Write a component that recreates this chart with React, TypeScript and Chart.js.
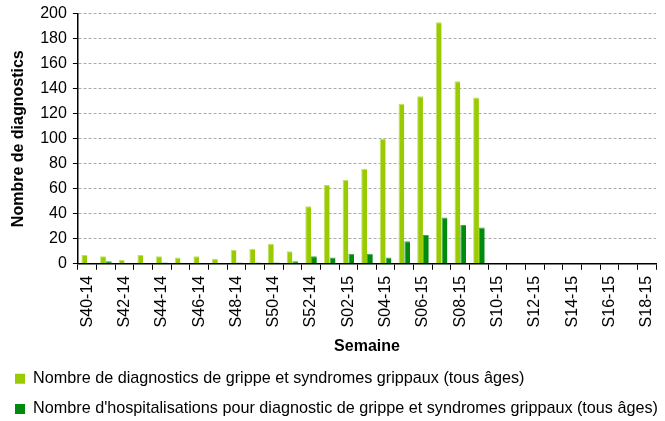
import React, { useEffect, useRef } from "react";
import { Chart, registerables } from "chart.js";

Chart.register(...registerables);

const weeks: string[] = [
  "S40-14", "S41-14", "S42-14", "S43-14", "S44-14", "S45-14", "S46-14", "S47-14",
  "S48-14", "S49-14", "S50-14", "S51-14", "S52-14",
  "S01-15", "S02-15", "S03-15", "S04-15", "S05-15", "S06-15", "S07-15", "S08-15",
  "S09-15", "S10-15", "S11-15", "S12-15", "S13-15", "S14-15", "S15-15", "S16-15",
  "S17-15", "S18-15",
];

const diagnostics: number[] = [
  7, 6, 3, 7, 6, 5, 6, 4, 11, 12, 16, 10, 46,
  63, 67, 76, 100, 128, 134, 193, 146, 133, 0, 0, 0, 0, 0, 0, 0, 0, 0,
];

const hospitalisations: number[] = [
  0, 2, 0, 0, 1, 0, 0, 0, 1, 1, 1, 2, 6,
  5, 8, 8, 5, 18, 23, 37, 31, 29, 0, 0, 0, 0, 0, 0, 0, 0, 0,
];

const seriesNames: string[] = [
  "Nombre de diagnostics de grippe et syndromes grippaux (tous âges)",
  "Nombre d'hospitalisations pour diagnostic de grippe et syndromes grippaux (tous âges)",
];

const FONT = "'Liberation Sans', Arial, sans-serif";

export default function App() {
  const ref = useRef<HTMLCanvasElement | null>(null);
  useEffect(() => {
    if (!ref.current) return;
    const chart = new Chart(ref.current, {
      type: "bar",
      data: {
        labels: weeks,
        datasets: [
          {
            label: seriesNames[0],
            data: diagnostics,
            backgroundColor: "#99CC00",
            borderColor: "#C2E066",
            borderWidth: { left: 1, top: 1, right: 0, bottom: 0 } as any,
          },
          {
            label: seriesNames[1],
            data: hospitalisations,
            backgroundColor: "#008A0E",
            borderColor: "#3FA84A",
            borderWidth: { left: 1, top: 1, right: 0, bottom: 0 } as any,
          },
        ],
      },
      options: {
        responsive: false,
        animation: false,
        layout: { padding: { left: 1, right: 0, top: 5, bottom: 0 } },
        datasets: { bar: { categoryPercentage: 0.62, barPercentage: 1.0 } },
        plugins: {
          tooltip: { enabled: false },
          legend: {
            position: "bottom",
            align: "start",
            labels: {
              boxWidth: 10,
              boxHeight: 10,
              padding: 14,
              color: "#000",
              font: { family: FONT, size: 16.2 },
              generateLabels: (c: any) =>
                Chart.defaults.plugins.legend.labels.generateLabels(c).map((l: any) => ({
                  ...l,
                  lineWidth: 0,
                  strokeStyle: l.fillStyle,
                })),
            },
          },
        },
        scales: {
          x: {
            offset: true,
            grid: {
              offset: true,
              drawOnChartArea: false,
              drawTicks: true,
              tickLength: 6,
              tickColor: "#000",
            },
            border: { display: true, color: "#000", width: 1.5 },
            ticks: {
              autoSkip: false,
              maxRotation: 90,
              minRotation: 90,
              color: "#000",
              font: { family: FONT, size: 16 },
              padding: 6,
              callback: (_v: any, i: number) => (i % 2 === 0 ? weeks[i] : ""),
            },
            title: {
              display: true,
              text: "Semaine",
              color: "#000",
              font: { family: FONT, size: 16, weight: "bold" },
              padding: { top: 4, bottom: 0 },
            },
          },
          y: {
            min: 0,
            max: 200,
            ticks: {
              stepSize: 20,
              color: "#000",
              font: { family: FONT, size: 16 },
              padding: 6,
            },
            grid: {
              color: "#AAAAAA",
              lineWidth: 1,
              drawTicks: true,
              tickLength: 5,
              tickColor: "#000",
              tickBorderDash: [],
            },
            border: { display: true, color: "#000", width: 1.5, dash: [3, 2] },
            title: {
              display: true,
              text: "Nombre de diagnostics",
              color: "#000",
              font: { family: FONT, size: 16, weight: "bold" },
              padding: { top: 8, bottom: 6 },
            },
          },
        },
      },
    });
    return () => chart.destroy();
  }, []);
  return (
    <div style={{ position: "fixed", left: 0, top: 0, width: 665, height: 421, overflow: "hidden", background: "#fff" }}>
      <canvas ref={ref} width={672} height={429} style={{ display: "block", marginTop: -2 }} />
    </div>
  );
}
